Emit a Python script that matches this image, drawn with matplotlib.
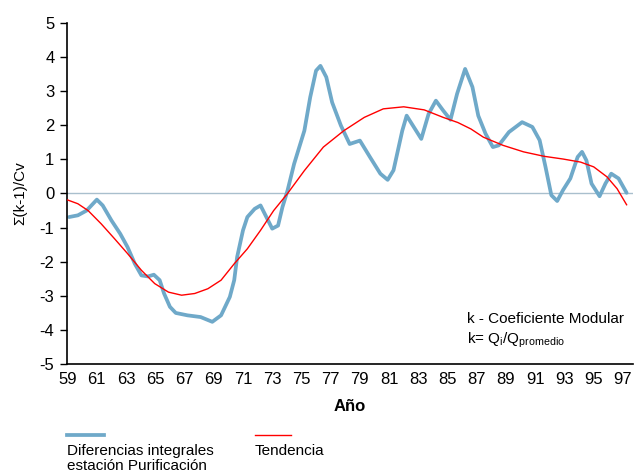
import matplotlib
matplotlib.use("Agg")
import matplotlib.pyplot as plt
from matplotlib.lines import Line2D

plt.rcParams['font.family'] = ['Liberation Sans', 'DejaVu Sans']
plt.rcParams['axes.unicode_minus'] = False

# diferencias integrales
anio_dif = [59.1, 59.7, 60.3, 61.0, 61.4, 62.0, 62.6, 63.1, 63.6, 64.05, 64.5, 64.9, 65.3,
            65.6, 66.0, 66.4, 67.2, 68.1, 68.9, 69.5, 70.1, 70.4, 70.6, 71.0, 71.3, 71.8,
            72.2, 72.6, 73.0, 73.4, 73.7, 74.05, 74.5, 75.2, 75.6, 76.0, 76.3, 76.7, 77.1,
            77.7, 78.3, 79.0, 79.7, 80.4, 80.9, 81.3, 81.9, 82.2, 82.7, 83.2, 83.7, 84.2,
            84.7, 85.2, 85.65, 86.2, 86.7, 87.1, 87.6, 88.1, 88.5, 89.2, 90.1, 90.8, 91.3,
            91.7, 92.1, 92.5, 92.9, 93.4, 93.9, 94.2, 94.5, 94.85, 95.4, 95.8, 96.2, 96.7,
            97.25]
dif = [-0.69, -0.64, -0.50, -0.18, -0.35, -0.79, -1.18, -1.57, -2.06, -2.40, -2.43, -2.38, -2.54,
       -2.93, -3.32, -3.50, -3.57, -3.62, -3.76, -3.57, -3.03, -2.54, -1.86, -1.08, -0.69, -0.45,
       -0.35, -0.69, -1.03, -0.94, -0.40, 0.09, 0.87, 1.84, 2.82, 3.60, 3.74, 3.41, 2.67,
       1.99, 1.45, 1.55, 1.06, 0.58, 0.40, 0.68, 1.84, 2.28, 1.94, 1.60, 2.33, 2.72,
       2.43, 2.16, 2.92, 3.65, 3.12, 2.28, 1.75, 1.36, 1.41, 1.80, 2.09, 1.95, 1.56,
       0.78, -0.05, -0.22, 0.10, 0.44, 1.07, 1.22, 0.97, 0.29, -0.08, 0.29, 0.58, 0.44,
       0.02]

# tendencia
anio_tend = [59.0, 59.7, 60.4, 61.3, 62.2, 63.1, 64.05, 64.96, 65.9, 66.8, 67.7, 68.6, 69.5,
             70.4, 71.3, 72.2, 73.1, 74.05, 75.2, 76.5, 77.9, 79.3, 80.6, 82.0, 83.4, 84.7,
             85.7, 86.6, 87.45, 88.8, 90.2, 91.6, 92.9, 94.1, 95.0, 95.9, 96.6, 97.25]
tend = [-0.19, -0.30, -0.50, -0.89, -1.32, -1.76, -2.25, -2.64, -2.89, -2.98, -2.93, -2.79, -2.54,
        -2.06, -1.62, -1.08, -0.50, 0.0, 0.67, 1.36, 1.84, 2.23, 2.48, 2.54, 2.45, 2.23,
        2.08, 1.89, 1.65, 1.41, 1.22, 1.09, 1.01, 0.92, 0.78, 0.49, 0.14, -0.33]

yticks = [-5, -4, -3, -2, -1, 0, 1, 2, 3, 4, 5]
xticks = list(range(59, 98, 2))
xtick_labels = [str(v) for v in xticks]

fig = plt.figure(figsize=(6.37, 4.76), dpi=100)
ax = fig.add_axes([0.105, 0.235, 0.889, 0.717])

ax.axhline(0, color='#a9bfcd', lw=1, zorder=1)
ax.plot(anio_dif, dif, color='#6fa9c9', lw=2.7, solid_joinstyle='round',
        solid_capstyle='round', zorder=2)
ax.plot(anio_tend, tend, color='#ff0000', lw=1.0, zorder=3)

ax.set_xlim(58.95, 97.7)
ax.set_ylim(-5, 5)
ax.set_yticks(yticks)
ax.set_xticks(xticks)
ax.set_xticklabels(xtick_labels)
ax.tick_params(axis='y', direction='out', length=5, width=1, labelsize=12, pad=4)
ax.tick_params(axis='x', length=0, labelsize=12, pad=6)
for s in ['top', 'right']:
    ax.spines[s].set_visible(False)
ax.spines['left'].set_linewidth(1.2)
ax.spines['bottom'].set_linewidth(1.2)

ax.set_ylabel('Σ(k-1)/Cv', fontsize=11, labelpad=9)
ax.set_xlabel('Año', fontsize=12, fontweight='bold', labelpad=8)

ax.text(0.706, 0.12, 'k - Coeficiente Modular', transform=ax.transAxes, fontsize=11,
        va='baseline')
ax.text(0.706, 0.062, r'k= Q$_\mathregular{i}$/Q$_\mathregular{promedio}$',
        transform=ax.transAxes, fontsize=11, va='baseline')

# leyenda manual bajo el grafico
fig.add_artist(Line2D([67/637, 104/637], [1-435/476, 1-435/476], color='#6fa9c9', lw=2.7))
fig.add_artist(Line2D([255/637, 291/637], [1-435/476, 1-435/476], color='#ff0000', lw=1.0))
fig.text(67/637, 1-444/476, 'Diferencias integrales\nestación Purificación', fontsize=11,
         va='top', linespacing=1.1)
fig.text(255/637, 1-444/476, 'Tendencia', fontsize=11, va='top')

fig.savefig('out.png', dpi=100)
